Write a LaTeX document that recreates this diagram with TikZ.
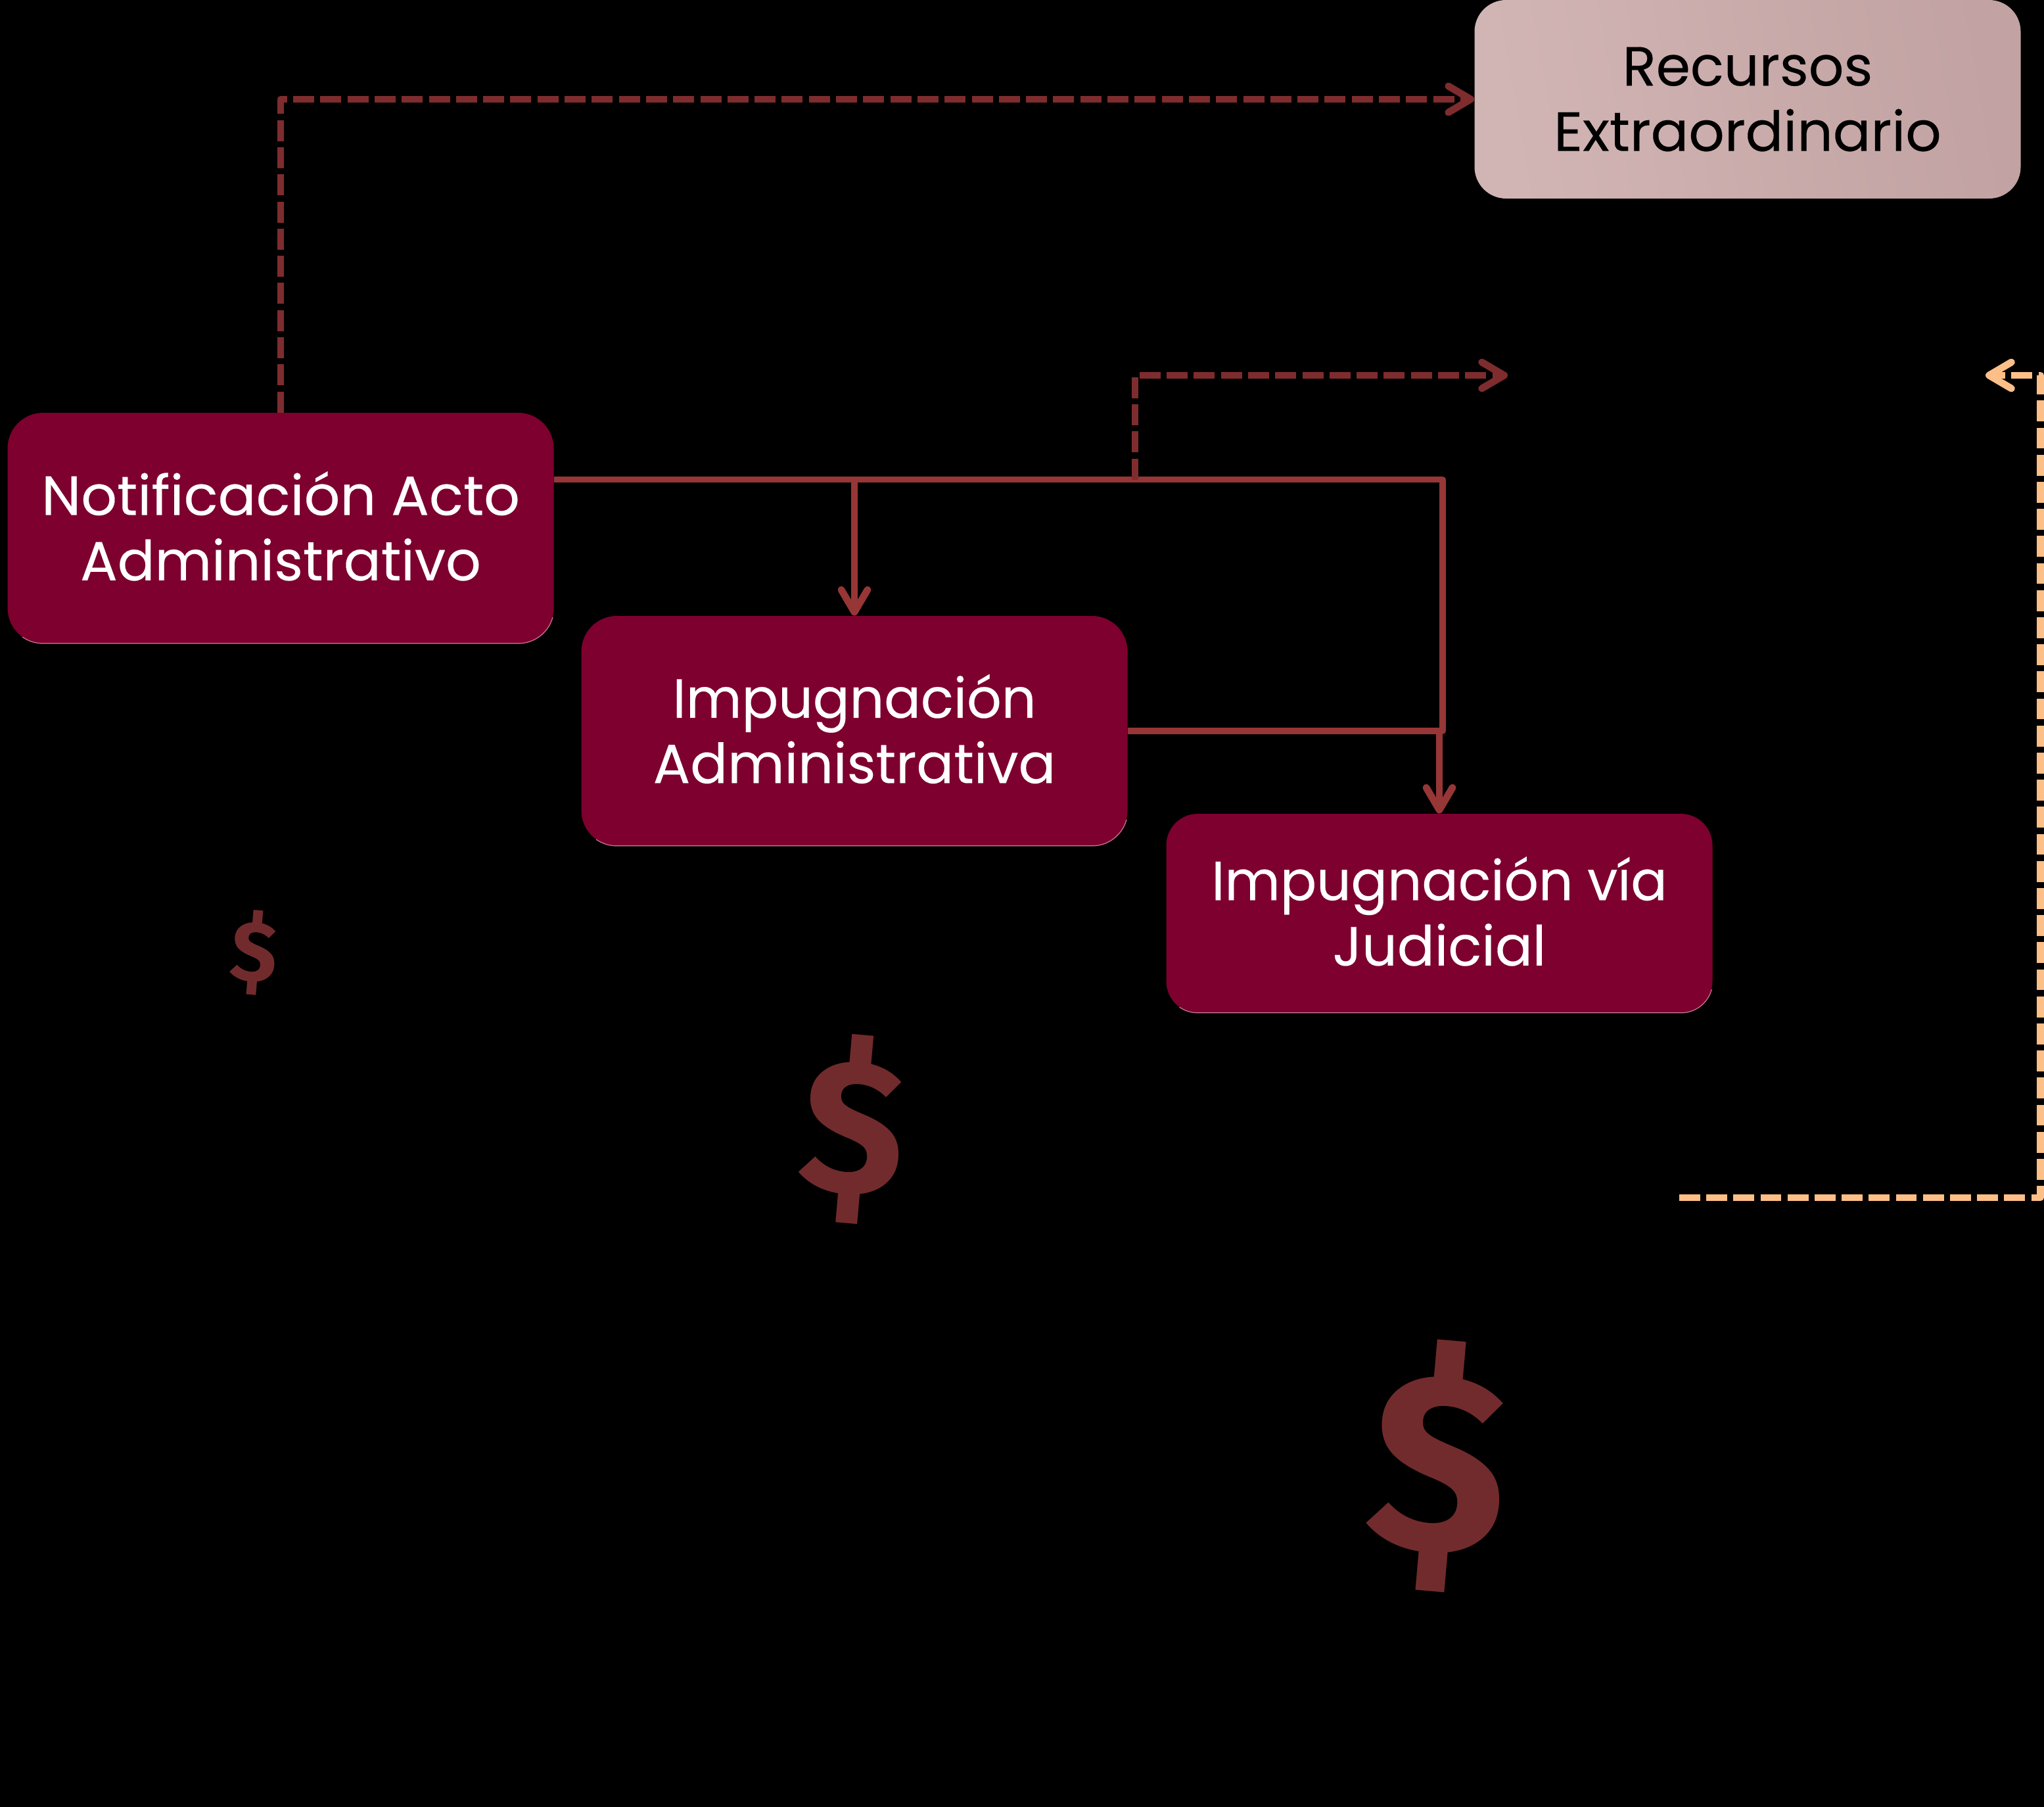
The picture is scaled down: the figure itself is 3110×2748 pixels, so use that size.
\documentclass[tikz,border=0pt]{standalone}
\usepackage{fontspec}
\setmainfont{Poppins}[FakeBold=0.2]
\newfontfamily\dollarfont{Fira Sans}[BoldFont=* Bold]
\usetikzlibrary{arrows.meta}
\definecolor{wine}{HTML}{7D002F}
\definecolor{edgepink}{HTML}{CC7A96}
\definecolor{solidline}{HTML}{973636}
\definecolor{dashline}{HTML}{7E2C2E}
\definecolor{peach}{HTML}{FDBF88}
\definecolor{dollarc}{HTML}{722B2D}
\definecolor{softA}{HTML}{D1B5B4}
\definecolor{softB}{HTML}{C2A2A2}
\newcommand\liftline{\rule[-3.5pt]{0pt}{3.5pt}}
\newcommand\rimline[2]{%
  \draw[rimstyle] ([xshift=#2pt,yshift=0.3pt]#1.south west) arc[start angle=270,end angle=235,radius=#2pt];
  \draw[rimstyle] ([xshift=#2pt,yshift=0.3pt]#1.south west) -- ([xshift=-#2pt,yshift=0.3pt]#1.south east) arc[start angle=270,end angle=345,radius=#2pt];
}
\tikzset{
  x=0.5pt,y=-0.5pt,
  boxbase/.style={minimum width=415.5pt,align=center,font=\fontsize{42}{49.7}\selectfont,inner sep=0pt},
  winebox/.style={boxbase,fill=wine,text=white},
  softbox/.style={boxbase,left color=softA,right color=softB,shading angle=100,text=black},
  barb/.style={-{Straight Barb[length=17pt,width=20pt,round,line width=5.4pt]}},
  solidconn/.style={draw=solidline,line width=4.6pt,line join=round},
  dashconn/.style={draw=dashline,line width=5.2pt,line join=round,dash pattern=on 16pt off 4.65pt},
  peachconn/.style={draw=peach,line width=5.4pt,line join=round,dash pattern=on 15.9pt off 4.7pt},
  rimstyle/.style={draw=edgepink,line width=0.6pt},
  dollar/.style={dollarc,inner sep=0pt,rotate=-5}
}
\begin{document}
\begin{tikzpicture}
\useasboundingbox (0,0) rectangle (3110,2748);
\fill[black] (-10,-10) rectangle (3120,2760);
\node[softbox,rounded corners=24pt,minimum height=151pt] (recursos) at (2659,151) {Recursos\\\scalebox{1.015}[1]{Extraordinario}};
\node[winebox,rounded corners=27pt,minimum height=175.5pt] (notif) at (427,803.5) {\scalebox{1.02}[1]{Notificación Acto}\\Administrativo\liftline};
\node[winebox,rounded corners=27pt,minimum height=175pt] (admin) at (1300,1112) {\scalebox{0.98}[1]{Impugnación}\\Administrativa\liftline};
\node[winebox,rounded corners=24pt,minimum height=151.5pt] (judicial) at (2190,1389.5) {\scalebox{0.975}[1]{Impugnación vía}\\Judicial\liftline};
\rimline{notif}{27}
\rimline{admin}{27}
\rimline{judicial}{24}
\coordinate (topy) at (0,729.5);
\coordinate (midy) at (0,1112);
\coordinate (corner) at (2195,729.5);
\coordinate (corner2) at (2195,1112);
\coordinate (branch) at (1727,729.5);
\coordinate (dashtop) at (1727,571);
\coordinate (dashend) at (2294,571);
\coordinate (peachstart) at (2555,1822);
\coordinate (peachcorner) at (3104.5,1822);
\coordinate (peachtop) at (3104.5,571);
\coordinate (peachend) at (3021,571);
\draw[solidconn] (notif.east |- topy) -- (corner) -- (corner2) -- (admin.east);
\draw[solidconn,barb] (admin.north |- topy) -- (admin.north);
\draw[solidconn,barb] (judicial.north |- midy) -- (judicial.north);
\draw[dashconn,barb] (notif.north) |- (recursos.west);
\draw[dashconn,barb] (branch) -- (dashtop) -- (dashend);
\draw[peachconn,barb] (peachstart) -- (peachcorner) -- (peachtop) -- (peachend);
\node[dollar,font=\dollarfont\bfseries\fontsize{65}{65}\selectfont] (d1) at (387,1449) {\$};
\node[dollar,font=\dollarfont\bfseries\fontsize{145}{145}\selectfont] (d2) at (1298,1718) {\$};
\node[dollar,font=\dollarfont\bfseries\fontsize{193}{193}\selectfont] (d3) at (2189,2230) {\$};
\end{tikzpicture}
\end{document}
